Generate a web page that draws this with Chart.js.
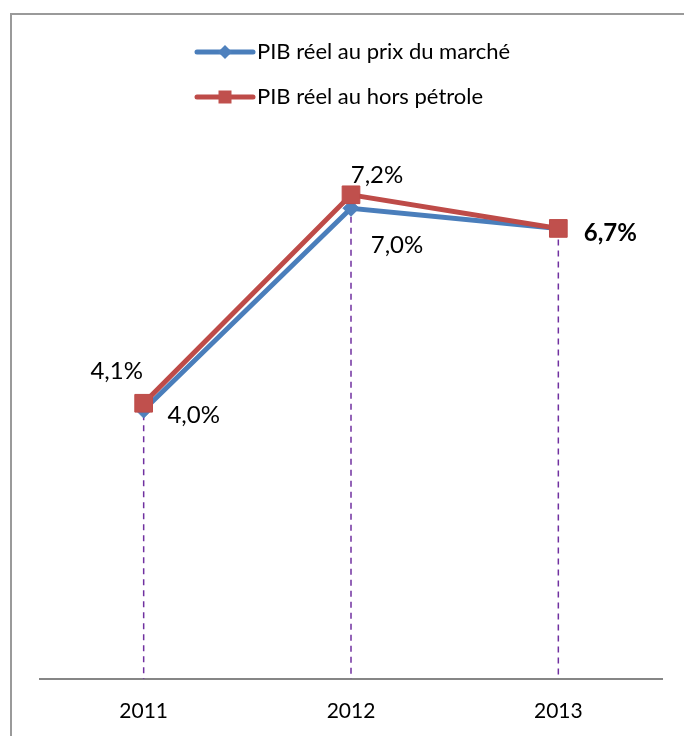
<!DOCTYPE html>
<html>
<head>
<meta charset="utf-8">
<script src="https://cdn.jsdelivr.net/npm/chart.js@4/dist/chart.umd.min.js"></script>
<style>
  html, body { margin: 0; padding: 0; background: #fff; }
  #wrap { width: 684px; height: 736px; }
</style>
</head>
<body>
<div id="wrap"><canvas id="chart1" width="684" height="736"></canvas></div>
<script>
// donnees
const annees = ["2011", "2012", "2013"];
const pibMarche = [4.0, 7.0, 6.7];
const pibHorsPetrole = [4.1, 7.2, 6.7];
const libelles = ["PIB réel au prix du marché", "PIB réel au hors pétrole"];

// etiquettes : decalage du centre du texte par rapport au point (null = pas d'etiquette)
const decalages = [
  [[50, 5], [46, 37], null],
  [[-27, -32], [26, -20], [52, 5]]
];
const POLICE = "Lato, 'Liberation Sans', sans-serif";

const fmt = v => v.toFixed(1).replace('.', ',') + '%';

// cadre gris autour du graphique
const cadre = {
  id: 'cadre',
  beforeDraw(chart) {
    const ctx = chart.ctx;
    ctx.save();
    ctx.strokeStyle = '#9a9a9a';
    ctx.lineWidth = 2;
    ctx.strokeRect(11, 14, 720, 800);
    ctx.restore();
  }
};

// lignes pointillees violettes jusqu'a l'axe
const pointilles = {
  id: 'pointilles',
  beforeDatasetsDraw(chart) {
    const ctx = chart.ctx;
    const bas = chart.chartArea.bottom;
    ctx.save();
    ctx.strokeStyle = '#7030A0';
    ctx.lineWidth = 1.5;
    ctx.setLineDash([6, 5]);
    annees.forEach((a, i) => {
      let haut = bas;
      chart.data.datasets.forEach((ds, d) => {
        haut = Math.min(haut, chart.getDatasetMeta(d).data[i].y);
      });
      const x = chart.getDatasetMeta(0).data[i].x;
      ctx.beginPath();
      ctx.moveTo(x, haut);
      ctx.lineTo(x, bas);
      ctx.stroke();
    });
    ctx.restore();
  }
};

// etiquettes de valeurs
const etiquettes = {
  id: 'etiquettes',
  afterDatasetsDraw(chart) {
    const ctx = chart.ctx;
    ctx.save();
    ctx.fillStyle = '#000';
    ctx.textAlign = 'center';
    ctx.textBaseline = 'middle';
    chart.data.datasets.forEach((ds, d) => {
      const meta = chart.getDatasetMeta(d);
      ds.data.forEach((v, i) => {
        const off = decalages[d][i];
        if (!off) return;
        const gras = (d === 1 && i === 2);
        ctx.font = (gras ? 'bold ' : '') + '24px ' + POLICE;
        ctx.fillText(fmt(v), meta.data[i].x + off[0], meta.data[i].y + off[1]);
      });
    });
    ctx.restore();
  }
};

// legende : trait + marqueur, sur deux lignes
const legende = {
  id: 'legende',
  afterDraw(chart) {
    const ctx = chart.ctx;
    ctx.save();
    const x0 = 197, x1 = 253, xt = 257;
    const ys = [52, 97];
    chart.data.datasets.forEach((ds, d) => {
      const y = ys[d];
      ctx.strokeStyle = ds.borderColor;
      ctx.lineWidth = 5;
      ctx.lineCap = 'round';
      ctx.beginPath();
      ctx.moveTo(x0, y);
      ctx.lineTo(x1, y);
      ctx.stroke();
      ctx.fillStyle = ds.pointBackgroundColor;
      ctx.beginPath();
      const cx = (x0 + x1) / 2;
      if (ds.pointStyle === 'rectRot') {
        ctx.moveTo(cx, y - 7); ctx.lineTo(cx + 7, y); ctx.lineTo(cx, y + 7); ctx.lineTo(cx - 7, y);
        ctx.closePath();
      } else {
        ctx.rect(cx - 6.5, y - 6.5, 13, 13);
      }
      ctx.fill();
      ctx.fillStyle = '#000';
      ctx.font = '22px ' + POLICE;
      ctx.textAlign = 'left';
      ctx.textBaseline = 'middle';
      ctx.fillText(ds.label, xt, y);
    });
    ctx.restore();
  }
};

new Chart(document.getElementById("chart1"), {
  type: 'line',
  data: {
    labels: annees,
    datasets: [
      {
        label: libelles[0],
        data: pibMarche,
        borderColor: '#4A7EBB',
        borderWidth: 5,
        pointStyle: 'rectRot',
        pointRadius: 8,
        pointBackgroundColor: '#4F81BD',
        pointBorderColor: '#4A7EBB',
        pointBorderWidth: 1,
        order: 1
      },
      {
        label: libelles[1],
        data: pibHorsPetrole,
        borderColor: '#BE4B48',
        borderWidth: 5,
        pointStyle: 'rect',
        pointRadius: 12.5,
        pointBackgroundColor: '#C0504D',
        pointBorderColor: '#BE4B48',
        pointBorderWidth: 1,
        order: 0
      }
    ]
  },
  options: {
    responsive: false,
    animation: false,
    layout: { padding: { left: 40, right: 22, top: 141, bottom: 14 } },
    plugins: {
      legend: { display: false },
      tooltip: { enabled: false }
    },
    scales: {
      x: {
        offset: true,
        grid: { display: false, drawTicks: false },
        border: { display: true, color: '#868686', width: 2 },
        ticks: { color: '#000', padding: 20, font: { family: POLICE, size: 21 } },
        afterFit(scale) { scale.height = 43; }
      },
      y: {
        display: false,
        min: 0,
        max: 8
      }
    }
  },
  plugins: [cadre, pointilles, etiquettes, legende]
});
</script>
</body>
</html>
